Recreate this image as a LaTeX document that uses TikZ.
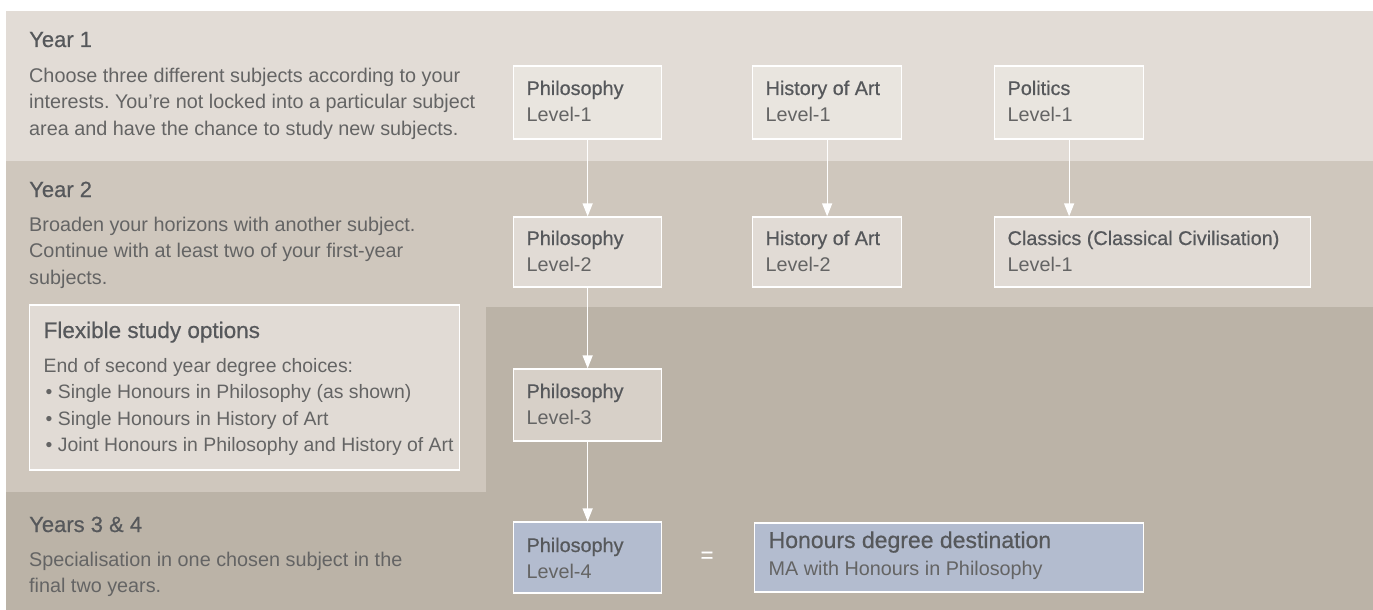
\documentclass[tikz,border=0pt]{standalone}
\usepackage{fontspec}
\setmainfont{Liberation Sans}
\newfontfamily\medf[FakeBold=0.6]{Liberation Sans}
\usetikzlibrary{arrows.meta}
\frenchspacing
\definecolor{bandA}{HTML}{E2DCD6}
\definecolor{bandB}{HTML}{CFC7BD}
\definecolor{bandC}{HTML}{BBB3A7}
\definecolor{boxA}{HTML}{E9E5DF}
\definecolor{boxB}{HTML}{E1DBD5}
\definecolor{boxC}{HTML}{D7D0C8}
\definecolor{boxD}{HTML}{B3BCCF}
\definecolor{txtc}{HTML}{646464}
\definecolor{hdrc}{HTML}{56585B}
\newcommand{\bodyfont}{\fontsize{19.8}{26.6}\selectfont}
\newcommand{\hdtext}[1]{{\medf\fontsize{22}{26.6}\selectfont\color{hdrc}#1}}
\newcommand{\subjtext}[3]{\parbox[t]{#1}{\raggedright\fontsize{19.8}{26.8}\selectfont\mbox{\medf\color{hdrc}#2}\\\mbox{#3}}}
\tikzset{
  subj/.style={draw=white, line width=1.3pt, inner xsep=13pt, inner ysep=0pt, anchor=base west, text=txtc},
  plain/.style={anchor=base west, inner sep=0pt, text=txtc},
  conn/.style={draw=white, line width=1.3pt, -{Triangle[length=13pt,width=10pt]}}
}
\begin{document}
\frenchspacing
\begin{tikzpicture}[x=1pt,y=-1pt]
\useasboundingbox (0,0) rectangle (1373,610);
\fill[white] (0,0) rectangle (1373,610);
% bands
\fill[bandA] (6,11) rectangle (1373,161);
\fill[bandB] (6,161) -- (1373,161) -- (1373,307) -- (486,307) -- (486,492) -- (6,492) -- cycle;
\fill[bandC] (486,307) -- (1373,307) -- (1373,610) -- (6,610) -- (6,492) -- (486,492) -- cycle;

% left texts
\node[plain] (y1h) at (29,47) {\hdtext{Year 1}};
\node[plain] (y1t) at (29,82) {\parbox[t]{500pt}{\raggedright\bodyfont Choose three different subjects according to your\\ interests. You’re not locked into a particular subject\\ area and have the chance to study new subjects.}};
\node[plain] (y2h) at (29,197) {\hdtext{Year 2}};
\node[plain] (y2t) at (29,231) {\parbox[t]{500pt}{\raggedright\bodyfont Broaden your horizons with another subject.\\ Continue with at least two of your first-year\\ subjects.}};
\node[plain] (y3h) at (29,532) {\hdtext{Years 3 \& 4}};
\node[plain] (y3t) at (29,566) {\parbox[t]{500pt}{\raggedright\bodyfont Specialisation in one chosen subject in the\\ final two years.}};

% flexible options box
\node[anchor=base west, draw=white, line width=1.3pt, fill=boxB, inner xsep=14pt, inner ysep=0pt,
      text height=33pt, text depth=132pt, text=txtc] (flex) at (29,338)
  {\parbox[t]{402pt}{\raggedright\fontsize{19.4}{26.6}\selectfont\mbox{\medf\fontsize{22.5}{26.6}\selectfont\color{hdrc}Flexible study options}\\[7.4pt]
   \mbox{End of second year degree choices:}\\
   \mbox{\hspace*{2pt}• Single Honours in Philosophy (as shown)}\\
   \mbox{\hspace*{2pt}• Single Honours in History of Art}\\
   \mbox{\hspace*{2pt}• Joint Honours in Philosophy and History of Art}}};

% subject boxes
\node[subj, fill=boxA, text height=29pt, text depth=44pt] (p1) at (513,95) {\subjtext{122pt}{Philosophy}{Level-1}};
\node[subj, fill=boxA, text height=29pt, text depth=44pt] (h1) at (752,95) {\subjtext{123pt}{History of Art}{Level-1}};
\node[subj, fill=boxA, text height=29pt, text depth=44pt] (po1) at (994,95) {\subjtext{123pt}{Politics}{Level-1}};

\node[subj, fill=boxB, text height=28pt, text depth=42pt] (p2) at (513,245) {\subjtext{122pt}{Philosophy}{Level-2}};
\node[subj, fill=boxB, text height=28pt, text depth=42pt] (h2) at (752,245) {\subjtext{123pt}{History of Art}{Level-2}};
\node[subj, fill=boxB, text height=28pt, text depth=42pt] (cl1) at (994,245) {\subjtext{290pt}{Classics (Classical Civilisation)}{Level-1}};

\node[subj, fill=boxC, text height=29pt, text depth=43pt] (p3) at (513,398) {\subjtext{122pt}{Philosophy}{Level-3}};
\node[subj, fill=boxD, text height=30pt, text depth=41pt] (p4) at (513,552) {\subjtext{122pt}{Philosophy}{Level-4}};

\node[anchor=center, inner sep=0pt, text=white, font=\medf\fontsize{22}{24}\selectfont] (eq) at (707,557) {=};

\node[subj, fill=boxD, inner xsep=14pt, text height=25pt, text depth=44pt] (hon) at (754,548)
  {\parbox[t]{361pt}{\raggedright\fontsize{19.8}{27}\selectfont\mbox{\medf\fontsize{23}{27}\selectfont\color{hdrc}Honours degree destination}\\\mbox{MA with Honours in Philosophy}}};

% connectors
\draw[conn] (p1) -- (p2);
\draw[conn] (h1) -- (h2);
\draw[conn] (po1.south) -- (po1.south |- cl1.north);
\draw[conn] (p2) -- (p3);
\draw[conn] (p3) -- (p4);
\end{tikzpicture}
\end{document}
